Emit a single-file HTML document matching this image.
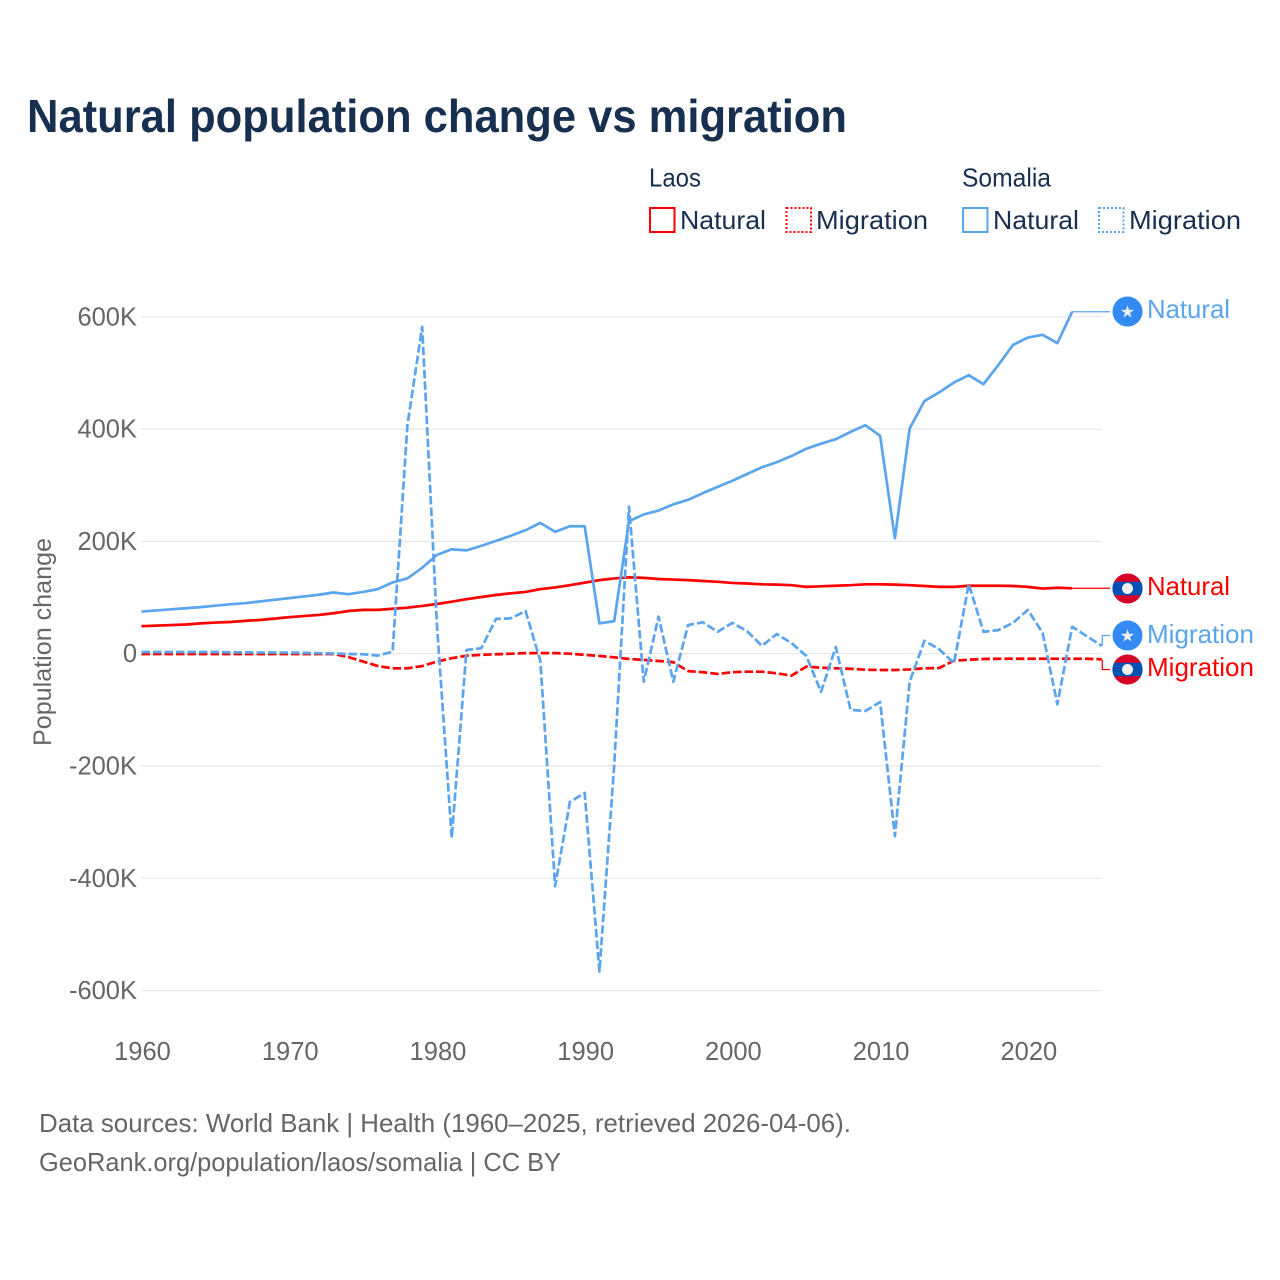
<!DOCTYPE html>
<html lang="en">
<head>
<meta charset="utf-8">
<title>Natural population change vs migration</title>
<style>
html,body{margin:0;padding:0;background:#fff;}
svg{display:block;font-family:"Liberation Sans",Arial,sans-serif;}
</style>
</head>
<body>
<svg id="chart" xmlns="http://www.w3.org/2000/svg" width="1280" height="1280" viewBox="0 0 1280 1280">
  <rect x="0" y="0" width="1280" height="1280" fill="#ffffff"/>
  <text x="27" y="132" font-size="46" font-weight="700" fill="#18304f" textLength="820" lengthAdjust="spacingAndGlyphs">Natural population change vs migration</text>

  <g font-size="26" fill="#18304f">
    <text x="649" y="186.5" textLength="52" lengthAdjust="spacingAndGlyphs">Laos</text>
    <text x="962" y="186.5" textLength="89" lengthAdjust="spacingAndGlyphs">Somalia</text>
    <rect x="650" y="208" width="24.5" height="24" fill="none" stroke="#ff0000" stroke-width="2"/>
    <text x="680" y="229" textLength="86" lengthAdjust="spacingAndGlyphs">Natural</text>
    <rect x="786.5" y="208" width="24.5" height="24" fill="none" stroke="#ff0000" stroke-width="2" stroke-dasharray="2 2"/>
    <text x="816" y="229" textLength="112" lengthAdjust="spacingAndGlyphs">Migration</text>
    <rect x="963" y="208" width="24.5" height="24" fill="none" stroke="#5ba4ee" stroke-width="2"/>
    <text x="993" y="229" textLength="86" lengthAdjust="spacingAndGlyphs">Natural</text>
    <rect x="1099" y="208" width="24.5" height="24" fill="none" stroke="#5ba4ee" stroke-width="2" stroke-dasharray="2 2"/>
    <text x="1129" y="229" textLength="112" lengthAdjust="spacingAndGlyphs">Migration</text>
  </g>

  <g id="grid"></g>
  <g id="y-ticks" font-size="25.5" fill="#666666" text-anchor="end"></g>
  <g id="x-ticks" font-size="25.5" fill="#666666" text-anchor="middle"></g>
  <text transform="translate(51,642) rotate(-90)" text-anchor="middle" font-size="25" fill="#666666" textLength="208" lengthAdjust="spacingAndGlyphs">Population change</text>

  <g id="series"></g>

  <g transform="translate(1127.5,311.5)">
    <circle r="15" fill="#338af3"/>
    <text y="6" text-anchor="middle" font-size="17" fill="#f0f0f0" font-family="'DejaVu Sans',sans-serif">★</text>
  </g>
  <g transform="translate(1127.5,588.5)">
    <circle r="15" fill="#d80027"/>
    <path d="M-13.4,-6.8 H13.4 A15,15 0 0 1 13.4,6.8 H-13.4 A15,15 0 0 1 -13.4,-6.8 Z" fill="#0052b4"/>
    <circle r="5.5" fill="#f0f0f0"/>
  </g>
  <g transform="translate(1127.5,635.5)">
    <circle r="15" fill="#338af3"/>
    <text y="6" text-anchor="middle" font-size="17" fill="#f0f0f0" font-family="'DejaVu Sans',sans-serif">★</text>
  </g>
  <g transform="translate(1127.5,669.5)">
    <circle r="15" fill="#d80027"/>
    <path d="M-13.4,-6.8 H13.4 A15,15 0 0 1 13.4,6.8 H-13.4 A15,15 0 0 1 -13.4,-6.8 Z" fill="#0052b4"/>
    <circle r="5.5" fill="#f0f0f0"/>
  </g>

  <g font-size="26">
    <text x="1147" y="318" fill="#5ba4ee" textLength="83" lengthAdjust="spacingAndGlyphs">Natural</text>
    <text x="1147" y="595" fill="#ff0000" textLength="83" lengthAdjust="spacingAndGlyphs">Natural</text>
    <text x="1147" y="643" fill="#5ba4ee" textLength="107" lengthAdjust="spacingAndGlyphs">Migration</text>
    <text x="1147" y="676" fill="#ff0000" textLength="107" lengthAdjust="spacingAndGlyphs">Migration</text>
  </g>

  <g font-size="26" fill="#666666">
    <text x="39" y="1132" textLength="812" lengthAdjust="spacingAndGlyphs">Data sources: World Bank | Health (1960–2025, retrieved 2026-04-06).</text>
    <text x="39" y="1171" textLength="522" lengthAdjust="spacingAndGlyphs">GeoRank.org/population/laos/somalia | CC BY</text>
  </g>
</svg>
<script>
const years = [1960,1961,1962,1963,1964,1965,1966,1967,1968,1969,1970,1971,1972,1973,1974,1975,1976,1977,1978,1979,1980,1981,1982,1983,1984,1985,1986,1987,1988,1989,1990,1991,1992,1993,1994,1995,1996,1997,1998,1999,2000,2001,2002,2003,2004,2005,2006,2007,2008,2009,2010,2011,2012,2013,2014,2015,2016,2017,2018,2019,2020,2021,2022,2023,2024,2025];
const xTickYears = [1960,1970,1980,1990,2000,2010,2020];
const yTickValues = [600,400,200,0,-200,-400,-600];
const yTickLabels = ["600K","400K","200K","0","-200K","-400K","-600K"];
const laosNatural = [49,50,51,52,54,55.5,56.5,58.5,60,62.5,65,67,69,72,76,78,78,80,82,85,88.5,92.6,97,101,104.5,107.5,110,115,118,122,126.5,131,134,136,135,133,132,131,129.5,128,126,125,123.6,123,122,119,120,121,122,123.6,123.6,123,122,120.6,119,119,121,121,121,120.6,119,116,117.5,116.5];
const laosMigration = [-0.5,-0.5,-0.5,-0.5,-0.5,-0.5,-0.5,-0.5,-0.5,-0.5,-0.5,-0.5,-0.5,-0.5,-6,-14,-22,-26,-26,-22,-14,-8,-3.6,-2,-1,0,1,1,1,0,-2,-4,-6.4,-9.4,-11,-13,-15,-31,-33,-36,-33,-32,-32,-35,-39,-23,-25,-26,-27,-28.5,-29,-29,-28,-26,-25.5,-12.5,-10.7,-9.5,-9,-9,-9,-9,-9,-9,-9,-10];
const somaliaNatural = [75,77,79,81,83,85.5,88,90,93,96,99,102,105,109,106,110,115,127,134,153,176,186,184,192,201,210,220,233,217,227,227,54,58,236,248,255,266,274,286,297,308,320,332,341,352,365,374,382,395,407,388,205.5,401,450,465.5,483,496,480,514,550,563,568,553,609];
const somaliaMigration = [3,3,3,3,3,3,2.5,2.5,2,2,2,1.5,1,0.4,-0.5,-1,-3.4,3.6,407,582,51,-328,6.6,9.6,62,63,76,-13,-414,-264,-248,-566,-198,262,-50,66,-50,51,56,39,55,40,14,35,19,-4,-68,12,-100,-102,-86,-325,-50,23,8,-17,124,39,42,55,78,37,-90,48,31,14];

const NS = "http://www.w3.org/2000/svg";
function xScale(year) { return 141.5 + (year - 1960) * (960.2 / 65); }
function yScale(value) { return 653.7 - value * 0.5615; }
function make(tag, attrs, parent) {
  const el = document.createElementNS(NS, tag);
  for (const k in attrs) el.setAttribute(k, attrs[k]);
  parent.appendChild(el);
  return el;
}

const gridG = document.getElementById("grid");
const yG = document.getElementById("y-ticks");
yTickValues.forEach(function (v, i) {
  const line = make("line", {x1: 141, x2: 1102, y1: yScale(v), y2: yScale(v), stroke: "#e7e7e7", "stroke-width": 1.2}, gridG);
  
  
  const t = make("text", {x: 137, y: yScale(v) + 8.5}, yG);
  
  
  t.textContent = yTickLabels[i];
});
const xG = document.getElementById("x-ticks");
xTickYears.forEach(function (y) {
  const t = make("text", {x: xScale(y) + 1, y: 1060}, xG);
  
  
  t.textContent = y;
});

const seriesG = document.getElementById("series");
function drawSeries(values, color, dash, labelY) {
  const pts = values.map(function (v, i) { return xScale(years[i]).toFixed(2) + "," + yScale(v).toFixed(2); });
  const attrs = {points: pts.join(" "), fill: "none", stroke: color, "stroke-width": 2.7, "stroke-linejoin": "round"};
  if (dash) attrs["stroke-dasharray"] = "8.5 3";
  const line = make("polyline", attrs, seriesG);
  
  
  const endX = xScale(years[values.length - 1]);
  const endY = yScale(values[values.length - 1]);
  const bendX = Math.max(endX + 0.6, 1102.3);
  const d = dash
    ? "M" + bendX + "," + endY + " V" + labelY + " H1110"
    : "M" + endX + "," + endY + " H1110";
  const conn = make("path", {d: d, fill: "none", stroke: color, "stroke-width": 1.3}, seriesG);
  
  
}
drawSeries(laosNatural, "#ff0000", false, 588.5);
drawSeries(laosMigration, "#ff0000", true, 669.5);
drawSeries(somaliaNatural, "#5ba4ee", false, 311.5);
drawSeries(somaliaMigration, "#5ba4ee", true, 635.5);
</script>
</body>
</html>
